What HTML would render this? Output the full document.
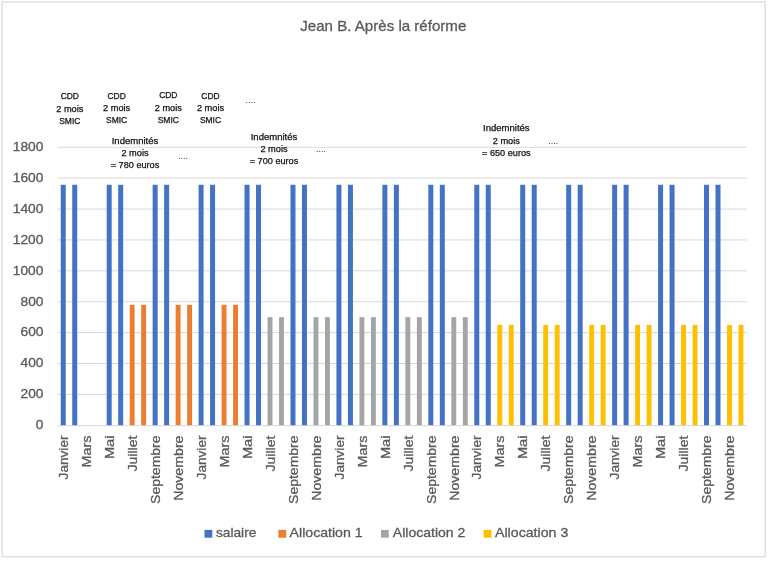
<!DOCTYPE html>
<html lang="fr"><head><meta charset="utf-8"><title>Jean B. Après la réforme</title>
<style>
html,body{margin:0;padding:0;background:#fff;}
body{width:768px;height:561px;overflow:hidden;font-family:"Liberation Sans",sans-serif;}
svg{display:block;}
text{font-family:"Liberation Sans",sans-serif;}
.ax{fill:#595959;font-size:13px;stroke:#595959;stroke-width:0.3px;}
.ax2{fill:#595959;font-size:13.6px;stroke:#595959;stroke-width:0.3px;}
.an{fill:#111;font-size:9px;stroke:#111;stroke-width:0.25px;}
</style></head><body>
<svg width="768" height="561" viewBox="0 0 768 561">
<rect x="0" y="0" width="768" height="561" fill="#fff"/>
<g>
<rect x="2" y="2" width="763.2" height="554.7" fill="#fff" stroke="#dcdcdc" stroke-width="1.3"/>

<line x1="57.5" x2="746.8" y1="425.60" y2="425.60" stroke="#d9d9d9" stroke-width="1"/>
<line x1="57.5" x2="746.8" y1="394.41" y2="394.41" stroke="#d9d9d9" stroke-width="1"/>
<line x1="57.5" x2="746.8" y1="363.51" y2="363.51" stroke="#d9d9d9" stroke-width="1"/>
<line x1="57.5" x2="746.8" y1="332.62" y2="332.62" stroke="#d9d9d9" stroke-width="1"/>
<line x1="57.5" x2="746.8" y1="301.72" y2="301.72" stroke="#d9d9d9" stroke-width="1"/>
<line x1="57.5" x2="746.8" y1="270.83" y2="270.83" stroke="#d9d9d9" stroke-width="1"/>
<line x1="57.5" x2="746.8" y1="239.93" y2="239.93" stroke="#d9d9d9" stroke-width="1"/>
<line x1="57.5" x2="746.8" y1="209.04" y2="209.04" stroke="#d9d9d9" stroke-width="1"/>
<line x1="57.5" x2="746.8" y1="178.14" y2="178.14" stroke="#d9d9d9" stroke-width="1"/>
<line x1="57.5" x2="746.8" y1="147.25" y2="147.25" stroke="#d9d9d9" stroke-width="1"/>
<text class="ax" x="43.4" y="429.20" text-anchor="end" textLength="7.6" lengthAdjust="spacingAndGlyphs">0</text>
<text class="ax" x="43.4" y="398.29" text-anchor="end" textLength="22.9" lengthAdjust="spacingAndGlyphs">200</text>
<text class="ax" x="43.4" y="367.38" text-anchor="end" textLength="22.9" lengthAdjust="spacingAndGlyphs">400</text>
<text class="ax" x="43.4" y="336.47" text-anchor="end" textLength="22.9" lengthAdjust="spacingAndGlyphs">600</text>
<text class="ax" x="43.4" y="305.56" text-anchor="end" textLength="22.9" lengthAdjust="spacingAndGlyphs">800</text>
<text class="ax" x="43.4" y="274.65" text-anchor="end" textLength="30.6" lengthAdjust="spacingAndGlyphs">1000</text>
<text class="ax" x="43.4" y="243.74" text-anchor="end" textLength="30.6" lengthAdjust="spacingAndGlyphs">1200</text>
<text class="ax" x="43.4" y="212.83" text-anchor="end" textLength="30.6" lengthAdjust="spacingAndGlyphs">1400</text>
<text class="ax" x="43.4" y="181.92" text-anchor="end" textLength="30.6" lengthAdjust="spacingAndGlyphs">1600</text>
<text class="ax" x="43.4" y="151.01" text-anchor="end" textLength="30.6" lengthAdjust="spacingAndGlyphs">1800</text>
<rect x="60.74" y="184.79" width="5.0" height="240.41" fill="#4472c4"/>
<rect x="72.23" y="184.79" width="5.0" height="240.41" fill="#4472c4"/>
<rect x="106.69" y="184.79" width="5.0" height="240.41" fill="#4472c4"/>
<rect x="118.18" y="184.79" width="5.0" height="240.41" fill="#4472c4"/>
<rect x="129.72" y="304.81" width="4.9" height="120.39" fill="#ed7d31"/>
<rect x="141.20" y="304.81" width="4.9" height="120.39" fill="#ed7d31"/>
<rect x="152.64" y="184.79" width="5.0" height="240.41" fill="#4472c4"/>
<rect x="164.13" y="184.79" width="5.0" height="240.41" fill="#4472c4"/>
<rect x="175.66" y="304.81" width="4.9" height="120.39" fill="#ed7d31"/>
<rect x="187.15" y="304.81" width="4.9" height="120.39" fill="#ed7d31"/>
<rect x="198.59" y="184.79" width="5.0" height="240.41" fill="#4472c4"/>
<rect x="210.07" y="184.79" width="5.0" height="240.41" fill="#4472c4"/>
<rect x="221.61" y="304.81" width="4.9" height="120.39" fill="#ed7d31"/>
<rect x="233.10" y="304.81" width="4.9" height="120.39" fill="#ed7d31"/>
<rect x="244.54" y="184.79" width="5.0" height="240.41" fill="#4472c4"/>
<rect x="256.02" y="184.79" width="5.0" height="240.41" fill="#4472c4"/>
<rect x="267.56" y="317.17" width="4.9" height="108.03" fill="#a5a5a5"/>
<rect x="279.05" y="317.17" width="4.9" height="108.03" fill="#a5a5a5"/>
<rect x="290.48" y="184.79" width="5.0" height="240.41" fill="#4472c4"/>
<rect x="301.97" y="184.79" width="5.0" height="240.41" fill="#4472c4"/>
<rect x="313.51" y="317.17" width="4.9" height="108.03" fill="#a5a5a5"/>
<rect x="324.99" y="317.17" width="4.9" height="108.03" fill="#a5a5a5"/>
<rect x="336.43" y="184.79" width="5.0" height="240.41" fill="#4472c4"/>
<rect x="347.92" y="184.79" width="5.0" height="240.41" fill="#4472c4"/>
<rect x="359.46" y="317.17" width="4.9" height="108.03" fill="#a5a5a5"/>
<rect x="370.94" y="317.17" width="4.9" height="108.03" fill="#a5a5a5"/>
<rect x="382.38" y="184.79" width="5.0" height="240.41" fill="#4472c4"/>
<rect x="393.87" y="184.79" width="5.0" height="240.41" fill="#4472c4"/>
<rect x="405.40" y="317.17" width="4.9" height="108.03" fill="#a5a5a5"/>
<rect x="416.89" y="317.17" width="4.9" height="108.03" fill="#a5a5a5"/>
<rect x="428.33" y="184.79" width="5.0" height="240.41" fill="#4472c4"/>
<rect x="439.81" y="184.79" width="5.0" height="240.41" fill="#4472c4"/>
<rect x="451.35" y="317.17" width="4.9" height="108.03" fill="#a5a5a5"/>
<rect x="462.84" y="317.17" width="4.9" height="108.03" fill="#a5a5a5"/>
<rect x="474.28" y="184.79" width="5.0" height="240.41" fill="#4472c4"/>
<rect x="485.76" y="184.79" width="5.0" height="240.41" fill="#4472c4"/>
<rect x="497.30" y="324.89" width="4.9" height="100.31" fill="#ffc000"/>
<rect x="508.79" y="324.89" width="4.9" height="100.31" fill="#ffc000"/>
<rect x="520.22" y="184.79" width="5.0" height="240.41" fill="#4472c4"/>
<rect x="531.71" y="184.79" width="5.0" height="240.41" fill="#4472c4"/>
<rect x="543.25" y="324.89" width="4.9" height="100.31" fill="#ffc000"/>
<rect x="554.73" y="324.89" width="4.9" height="100.31" fill="#ffc000"/>
<rect x="566.17" y="184.79" width="5.0" height="240.41" fill="#4472c4"/>
<rect x="577.66" y="184.79" width="5.0" height="240.41" fill="#4472c4"/>
<rect x="589.20" y="324.89" width="4.9" height="100.31" fill="#ffc000"/>
<rect x="600.68" y="324.89" width="4.9" height="100.31" fill="#ffc000"/>
<rect x="612.12" y="184.79" width="5.0" height="240.41" fill="#4472c4"/>
<rect x="623.61" y="184.79" width="5.0" height="240.41" fill="#4472c4"/>
<rect x="635.14" y="324.89" width="4.9" height="100.31" fill="#ffc000"/>
<rect x="646.63" y="324.89" width="4.9" height="100.31" fill="#ffc000"/>
<rect x="658.07" y="184.79" width="5.0" height="240.41" fill="#4472c4"/>
<rect x="669.55" y="184.79" width="5.0" height="240.41" fill="#4472c4"/>
<rect x="681.09" y="324.89" width="4.9" height="100.31" fill="#ffc000"/>
<rect x="692.58" y="324.89" width="4.9" height="100.31" fill="#ffc000"/>
<rect x="704.02" y="184.79" width="5.0" height="240.41" fill="#4472c4"/>
<rect x="715.50" y="184.79" width="5.0" height="240.41" fill="#4472c4"/>
<rect x="727.04" y="324.89" width="4.9" height="100.31" fill="#ffc000"/>
<rect x="738.53" y="324.89" width="4.9" height="100.31" fill="#ffc000"/>
<text class="ax2" transform="translate(67.94,435.5) rotate(-90)" text-anchor="end" textLength="43.9" lengthAdjust="spacingAndGlyphs">Janvier</text>
<text class="ax2" transform="translate(90.92,435.5) rotate(-90)" text-anchor="end" textLength="32.0" lengthAdjust="spacingAndGlyphs">Mars</text>
<text class="ax2" transform="translate(113.89,435.5) rotate(-90)" text-anchor="end" textLength="23.6" lengthAdjust="spacingAndGlyphs">Mai</text>
<text class="ax2" transform="translate(136.87,435.5) rotate(-90)" text-anchor="end" textLength="36.0" lengthAdjust="spacingAndGlyphs">Juillet</text>
<text class="ax2" transform="translate(159.84,435.5) rotate(-90)" text-anchor="end" textLength="68.4" lengthAdjust="spacingAndGlyphs">Septembre</text>
<text class="ax2" transform="translate(182.81,435.5) rotate(-90)" text-anchor="end" textLength="65.3" lengthAdjust="spacingAndGlyphs">Novembre</text>
<text class="ax2" transform="translate(205.79,435.5) rotate(-90)" text-anchor="end" textLength="43.9" lengthAdjust="spacingAndGlyphs">Janvier</text>
<text class="ax2" transform="translate(228.76,435.5) rotate(-90)" text-anchor="end" textLength="32.0" lengthAdjust="spacingAndGlyphs">Mars</text>
<text class="ax2" transform="translate(251.74,435.5) rotate(-90)" text-anchor="end" textLength="23.6" lengthAdjust="spacingAndGlyphs">Mai</text>
<text class="ax2" transform="translate(274.71,435.5) rotate(-90)" text-anchor="end" textLength="36.0" lengthAdjust="spacingAndGlyphs">Juillet</text>
<text class="ax2" transform="translate(297.68,435.5) rotate(-90)" text-anchor="end" textLength="68.4" lengthAdjust="spacingAndGlyphs">Septembre</text>
<text class="ax2" transform="translate(320.66,435.5) rotate(-90)" text-anchor="end" textLength="65.3" lengthAdjust="spacingAndGlyphs">Novembre</text>
<text class="ax2" transform="translate(343.63,435.5) rotate(-90)" text-anchor="end" textLength="43.9" lengthAdjust="spacingAndGlyphs">Janvier</text>
<text class="ax2" transform="translate(366.61,435.5) rotate(-90)" text-anchor="end" textLength="32.0" lengthAdjust="spacingAndGlyphs">Mars</text>
<text class="ax2" transform="translate(389.58,435.5) rotate(-90)" text-anchor="end" textLength="23.6" lengthAdjust="spacingAndGlyphs">Mai</text>
<text class="ax2" transform="translate(412.55,435.5) rotate(-90)" text-anchor="end" textLength="36.0" lengthAdjust="spacingAndGlyphs">Juillet</text>
<text class="ax2" transform="translate(435.53,435.5) rotate(-90)" text-anchor="end" textLength="68.4" lengthAdjust="spacingAndGlyphs">Septembre</text>
<text class="ax2" transform="translate(458.50,435.5) rotate(-90)" text-anchor="end" textLength="65.3" lengthAdjust="spacingAndGlyphs">Novembre</text>
<text class="ax2" transform="translate(481.48,435.5) rotate(-90)" text-anchor="end" textLength="43.9" lengthAdjust="spacingAndGlyphs">Janvier</text>
<text class="ax2" transform="translate(504.45,435.5) rotate(-90)" text-anchor="end" textLength="32.0" lengthAdjust="spacingAndGlyphs">Mars</text>
<text class="ax2" transform="translate(527.42,435.5) rotate(-90)" text-anchor="end" textLength="23.6" lengthAdjust="spacingAndGlyphs">Mai</text>
<text class="ax2" transform="translate(550.40,435.5) rotate(-90)" text-anchor="end" textLength="36.0" lengthAdjust="spacingAndGlyphs">Juillet</text>
<text class="ax2" transform="translate(573.37,435.5) rotate(-90)" text-anchor="end" textLength="68.4" lengthAdjust="spacingAndGlyphs">Septembre</text>
<text class="ax2" transform="translate(596.35,435.5) rotate(-90)" text-anchor="end" textLength="65.3" lengthAdjust="spacingAndGlyphs">Novembre</text>
<text class="ax2" transform="translate(619.32,435.5) rotate(-90)" text-anchor="end" textLength="43.9" lengthAdjust="spacingAndGlyphs">Janvier</text>
<text class="ax2" transform="translate(642.29,435.5) rotate(-90)" text-anchor="end" textLength="32.0" lengthAdjust="spacingAndGlyphs">Mars</text>
<text class="ax2" transform="translate(665.27,435.5) rotate(-90)" text-anchor="end" textLength="23.6" lengthAdjust="spacingAndGlyphs">Mai</text>
<text class="ax2" transform="translate(688.24,435.5) rotate(-90)" text-anchor="end" textLength="36.0" lengthAdjust="spacingAndGlyphs">Juillet</text>
<text class="ax2" transform="translate(711.22,435.5) rotate(-90)" text-anchor="end" textLength="68.4" lengthAdjust="spacingAndGlyphs">Septembre</text>
<text class="ax2" transform="translate(734.19,435.5) rotate(-90)" text-anchor="end" textLength="65.3" lengthAdjust="spacingAndGlyphs">Novembre</text>
<text x="383.3" y="30.6" text-anchor="middle" fill="#595959" stroke="#595959" stroke-width="0.3" font-size="15.3px" textLength="166" lengthAdjust="spacingAndGlyphs">Jean B. Après la réforme</text>
<text class="an" x="69.8" y="99.4" text-anchor="middle" textLength="18.3" lengthAdjust="spacingAndGlyphs">CDD</text>
<text class="an" x="69.8" y="111.9" text-anchor="middle" textLength="27.2" lengthAdjust="spacingAndGlyphs">2 mois</text>
<text class="an" x="69.8" y="124.0" text-anchor="middle" textLength="21.2" lengthAdjust="spacingAndGlyphs">SMIC</text>
<text class="an" x="116.6" y="98.5" text-anchor="middle" textLength="18.3" lengthAdjust="spacingAndGlyphs">CDD</text>
<text class="an" x="116.6" y="111.2" text-anchor="middle" textLength="27.2" lengthAdjust="spacingAndGlyphs">2 mois</text>
<text class="an" x="116.6" y="123.2" text-anchor="middle" textLength="21.2" lengthAdjust="spacingAndGlyphs">SMIC</text>
<text class="an" x="168.3" y="97.9" text-anchor="middle" textLength="18.3" lengthAdjust="spacingAndGlyphs">CDD</text>
<text class="an" x="168.3" y="110.5" text-anchor="middle" textLength="27.2" lengthAdjust="spacingAndGlyphs">2 mois</text>
<text class="an" x="168.3" y="122.5" text-anchor="middle" textLength="21.2" lengthAdjust="spacingAndGlyphs">SMIC</text>
<text class="an" x="210.5" y="98.5" text-anchor="middle" textLength="18.3" lengthAdjust="spacingAndGlyphs">CDD</text>
<text class="an" x="210.5" y="111.1" text-anchor="middle" textLength="27.2" lengthAdjust="spacingAndGlyphs">2 mois</text>
<text class="an" x="210.5" y="123.4" text-anchor="middle" textLength="21.2" lengthAdjust="spacingAndGlyphs">SMIC</text>
<text class="an" x="135.0" y="143.7" text-anchor="middle" textLength="46.6" lengthAdjust="spacingAndGlyphs">Indemnités</text>
<text class="an" x="135.0" y="156.2" text-anchor="middle" textLength="27.2" lengthAdjust="spacingAndGlyphs">2 mois</text>
<text class="an" x="135.0" y="168.3" text-anchor="middle" textLength="48.6" lengthAdjust="spacingAndGlyphs">= 780 euros</text>
<text class="an" x="274.0" y="139.7" text-anchor="middle" textLength="46.6" lengthAdjust="spacingAndGlyphs">Indemnités</text>
<text class="an" x="274.0" y="152.0" text-anchor="middle" textLength="27.2" lengthAdjust="spacingAndGlyphs">2 mois</text>
<text class="an" x="274.0" y="164.2" text-anchor="middle" textLength="48.6" lengthAdjust="spacingAndGlyphs">= 700 euros</text>
<text class="an" x="506.3" y="131.4" text-anchor="middle" textLength="46.6" lengthAdjust="spacingAndGlyphs">Indemnités</text>
<text class="an" x="506.3" y="143.9" text-anchor="middle" textLength="27.2" lengthAdjust="spacingAndGlyphs">2 mois</text>
<text class="an" x="506.3" y="156.2" text-anchor="middle" textLength="48.6" lengthAdjust="spacingAndGlyphs">= 650 euros</text>
<text class="an" style="stroke:none;fill:#333" x="250.5" y="103.0" text-anchor="middle" textLength="10" lengthAdjust="spacingAndGlyphs">....</text>
<text class="an" style="stroke:none;fill:#333" x="182.9" y="158.6" text-anchor="middle" textLength="10" lengthAdjust="spacingAndGlyphs">....</text>
<text class="an" style="stroke:none;fill:#333" x="320.9" y="152.0" text-anchor="middle" textLength="10" lengthAdjust="spacingAndGlyphs">....</text>
<text class="an" style="stroke:none;fill:#333" x="553.2" y="144.0" text-anchor="middle" textLength="10" lengthAdjust="spacingAndGlyphs">....</text>
<rect x="204.5" y="529.9" width="7.8" height="7.8" fill="#4472c4"/>
<text class="ax2" x="216.0" y="537.4" textLength="40.3" lengthAdjust="spacingAndGlyphs">salaire</text>
<rect x="278.4" y="529.9" width="7.8" height="7.8" fill="#ed7d31"/>
<text class="ax2" x="289.6" y="537.4" textLength="73" lengthAdjust="spacingAndGlyphs">Allocation 1</text>
<rect x="381.0" y="529.9" width="7.8" height="7.8" fill="#a5a5a5"/>
<text class="ax2" x="392.8" y="537.4" textLength="72.5" lengthAdjust="spacingAndGlyphs">Allocation 2</text>
<rect x="483.6" y="529.9" width="7.8" height="7.8" fill="#ffc000"/>
<text class="ax2" x="495.0" y="537.4" textLength="73.3" lengthAdjust="spacingAndGlyphs">Allocation 3</text>
</g>
</svg>
</body></html>
